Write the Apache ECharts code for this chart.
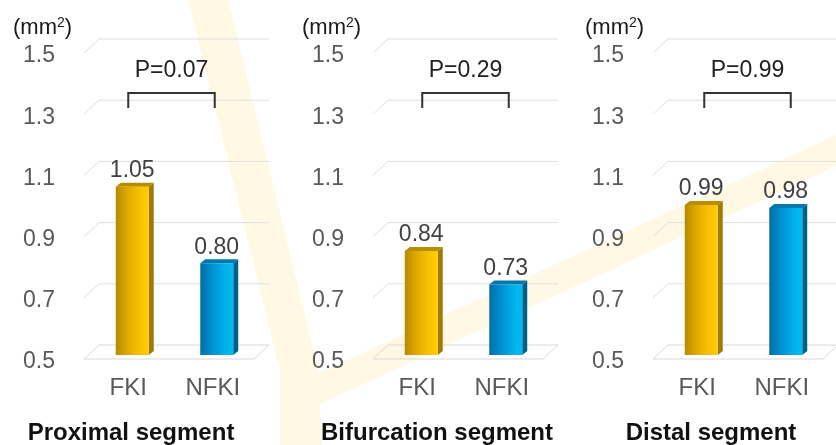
<!DOCTYPE html>
<html><head><meta charset="utf-8">
<script src="https://cdn.jsdelivr.net/npm/echarts@6/dist/echarts.min.js"></script>
<style>html,body{margin:0;padding:0;background:#fff}#c{width:836px;height:445px}</style>
</head><body><div id="c"></div>
<script>
// ---- data ----
const categories = ['FKI', 'NFKI'];
const panelTitles = ['Proximal segment', 'Bifurcation segment', 'Distal segment'];
const fkiValues = [1.05, 0.84, 0.99];
const nfkiValues = [0.80, 0.73, 0.98];
const pLabels = ['P=0.07', 'P=0.29', 'P=0.99'];
const yTicks = [0.5, 0.7, 0.9, 1.1, 1.3, 1.5];

// ---- layout / style ----
const FONT = '"Liberation Sans", Arial, sans-serif';
const gridLefts = [90, 379, 659];
const gridWidth = 169, gridTop = 49, gridHeight = 306;
const bracketShift = [-3, 2, 4];
const titleCenters = [131, 437, 711];
const unitLefts = [13, 302, 585];
const palettes = [
  { face: ['#b58a00', '#e0a900', '#f7c000', '#ffcc00'], side: '#a07a00', top: '#b88d00' },
  { face: ['#006ea6', '#0090cf', '#00aee8', '#00bbf2'], side: '#005f8c', top: '#0078ad' }
];

const chart = echarts.init(document.getElementById('c'), null, { renderer: 'canvas' });

const grids = [], xAxes = [], yAxes = [], series = [];

function renderGrid(params, api) {
  const cs = params.coordSys;
  const L = cs.x, R = cs.x + cs.width;
  const v = api.value(0);
  const y = api.coord([0, v])[1];
  if (v === yTicks[0]) {
    return {
      type: 'polygon',
      shape: { points: [[L - 6, y + 4], [L + 9, y - 10], [R + 10, y - 10], [R - 5, y + 4]] },
      style: { fill: 'rgba(255,255,255,0)', stroke: '#d9d9d9', lineWidth: 1 }
    };
  }
  return {
    type: 'polyline',
    shape: { points: [[L - 6, y + 4], [L + 9, y - 10], [R + 10, y - 10]] },
    style: { fill: null, stroke: '#dedede', lineWidth: 1 }
  };
}

function renderBar(params, api) {
  const idx = api.value(0);
  const val = api.value(1);
  const top = api.coord([idx, val]);
  const base = api.coord([idx, yTicks[0]]);
  const bw = api.size([1, 0])[0] * 0.39;
  const x0 = top[0] - bw / 2, x1 = top[0] + bw / 2;
  const dx = 5, dy = 4;
  const pal = palettes[idx];
  return {
    type: 'group',
    children: [
      { type: 'polygon', shape: { points: [[x1, top[1]], [x1 + dx, top[1] - dy], [x1 + dx, base[1] - dy], [x1, base[1]]] }, style: { fill: pal.side } },
      { type: 'polygon', shape: { points: [[x0, top[1]], [x1, top[1]], [x1 + dx, top[1] - dy], [x0 + dx, top[1] - dy]] }, style: { fill: pal.top } },
      {
        type: 'rect', shape: { x: x0, y: top[1], width: bw, height: base[1] - top[1] },
        style: {
          fill: new echarts.graphic.LinearGradient(0, 0, 1, 0, [
            { offset: 0, color: pal.face[0] }, { offset: 0.35, color: pal.face[1] },
            { offset: 0.7, color: pal.face[2] }, { offset: 1, color: pal.face[3] }
          ])
        }
      },
      {
        type: 'text',
        style: { text: val.toFixed(2), x: top[0], y: top[1] - 16, align: 'center', verticalAlign: 'middle', font: '23px ' + FONT, fill: '#404040' }
      }
    ]
  };
}

function makeBracket(p) {
  return function (params, api) {
    const cs = params.coordSys;
    const c1 = api.coord([0, yTicks[0]])[0] - 1 + bracketShift[p];
    const c2 = api.coord([1, yTicks[0]])[0] + 1 + bracketShift[p];
    const y = cs.y + 44;
    return {
      type: 'group',
      children: [
        { type: 'polyline', shape: { points: [[c1, y + 15], [c1, y], [c2, y], [c2, y + 15]] }, style: { fill: null, stroke: '#333333', lineWidth: 2 } },
        { type: 'text', style: { text: pLabels[p], x: (c1 + c2) / 2, y: cs.y + 21.5, align: 'center', verticalAlign: 'middle', font: '23px ' + FONT, fill: '#222222' } }
      ]
    };
  };
}

for (let p = 0; p < 3; p++) {
  grids.push({ left: gridLefts[p], top: gridTop, width: gridWidth, height: gridHeight });
  xAxes.push({
    type: 'category', gridIndex: p, data: categories,
    axisLine: { show: false }, axisTick: { show: false },
    axisLabel: { fontSize: 24, fontFamily: FONT, color: '#595959', margin: 21, padding: [0, 8, 0, 0] },
    splitLine: { show: false }
  });
  yAxes.push({
    type: 'value', gridIndex: p, min: 0.5, max: 1.5, interval: 0.2,
    axisLine: { show: false }, axisTick: { show: false }, splitLine: { show: false },
    axisLabel: {
      margin: 35,
      formatter: v => '{a|' + v.toFixed(1) + '}',
      rich: { a: { fontSize: 23, fontFamily: FONT, color: '#595959', padding: [14, 0, 0, 0] } }
    }
  });
  series.push({
    type: 'custom', xAxisIndex: p, yAxisIndex: p, z: 1, silent: true,
    data: yTicks.map(v => [v]), renderItem: renderGrid
  });
  series.push({
    type: 'custom', xAxisIndex: p, yAxisIndex: p, z: 3, silent: true,
    data: [[0, fkiValues[p]], [1, nfkiValues[p]]], renderItem: renderBar
  });
  series.push({
    type: 'custom', xAxisIndex: p, yAxisIndex: p, z: 4, silent: true,
    data: [[0]], renderItem: makeBracket(p)
  });
}

const graphics = [
  {
    type: 'polygon', z: -10, silent: true,
    shape: { points: [[188, 0], [228, 0], [319, 373], [836, 135], [836, 166], [320, 404], [322, 445], [280, 445], [280, 371]] },
    style: { fill: 'rgba(255, 222, 120, 0.2)' }
  }
];
for (let p = 0; p < 3; p++) {
  graphics.push({
    type: 'text', silent: true, x: unitLefts[p], y: 28,
    style: {
      text: '(mm{s|2})', font: '22px ' + FONT, fill: '#1a1a1a', verticalAlign: 'middle',
      rich: { s: { fontSize: 14, fontFamily: FONT, fill: '#1a1a1a', verticalAlign: 'top', padding: [0, 0, 10, 0] } }
    }
  });
  graphics.push({
    type: 'text', silent: true, x: titleCenters[p], y: 433,
    style: { text: panelTitles[p], font: 'bold 24px ' + FONT, fill: '#111111', align: 'center', verticalAlign: 'middle' }
  });
}

chart.setOption({
  animation: false,
  backgroundColor: '#ffffff',
  grid: grids, xAxis: xAxes, yAxis: yAxes, series: series,
  graphic: graphics
});
</script></body></html>
